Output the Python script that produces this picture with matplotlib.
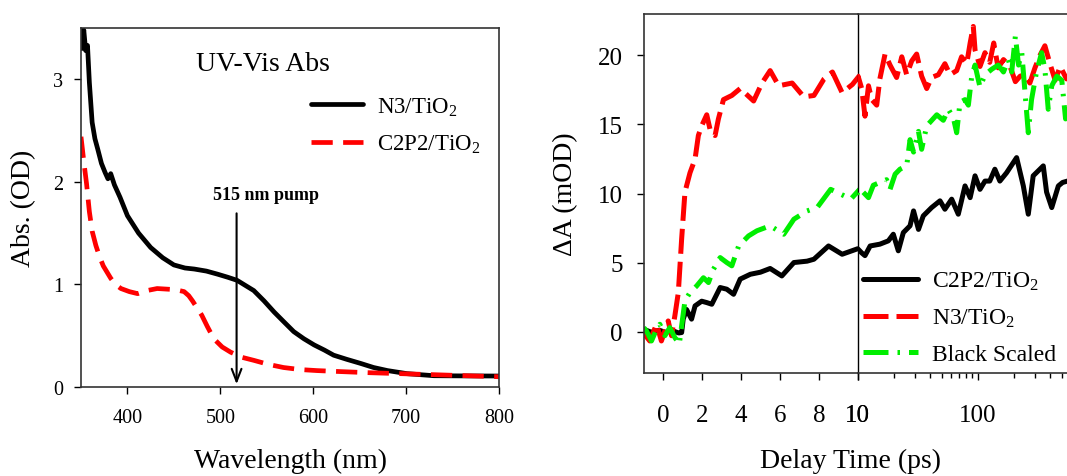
import matplotlib
matplotlib.use("Agg")
import matplotlib.pyplot as plt

plt.rcParams['font.family'] = ['Liberation Serif', 'DejaVu Serif']
plt.rcParams['mathtext.fontset'] = 'custom'
plt.rcParams['mathtext.rm'] = 'Liberation Serif'
plt.rcParams['mathtext.it'] = 'Liberation Serif:italic'

# ---- left panel: UV-Vis absorption ----
wl_n3 = [350, 351, 353, 355, 357, 359, 362, 365, 368, 372, 376, 379, 382, 386, 392,
         400, 412, 425, 438, 450, 462, 472, 485, 497, 508, 518, 527, 536, 547, 558,
         569, 579, 590, 601, 612, 622, 636, 651, 665, 680, 701, 730, 765, 800]
abs_n3 = [3.5, 3.3, 3.48, 3.28, 3.33, 2.97, 2.58, 2.42, 2.32, 2.18, 2.09, 2.03, 2.08, 1.97, 1.85,
          1.67, 1.5, 1.36, 1.26, 1.19, 1.16, 1.15, 1.13, 1.10, 1.07, 1.04, 0.99, 0.94, 0.84, 0.73,
          0.63, 0.54, 0.47, 0.41, 0.36, 0.31, 0.27, 0.23, 0.19, 0.16, 0.13, 0.11, 0.108, 0.107]

wl_c2 = [350, 353, 356, 359, 362, 366, 370, 374, 378, 382, 387, 393, 402, 411, 421,
         432, 441, 450, 456, 461, 466, 470, 475, 480, 486, 493, 502, 511, 523, 536,
         552, 568, 586, 604, 630, 658, 694, 730, 765, 800]
abs_c2 = [2.44, 2.2, 1.98, 1.71, 1.52, 1.38, 1.27, 1.18, 1.12, 1.06, 1.0, 0.96, 0.93, 0.91, 0.94,
          0.96, 0.955, 0.95, 0.94, 0.93, 0.89, 0.84, 0.77, 0.70, 0.59, 0.47, 0.39, 0.34, 0.29, 0.26,
          0.22, 0.19, 0.17, 0.16, 0.15, 0.14, 0.13, 0.12, 0.11, 0.10]

# ---- right panel: transient absorption ----
t_black = [-1.0, -0.7, -0.5, -0.2, 0.1, 0.5, 0.8, 0.95, 1.03, 1.2, 1.46, 1.64, 1.98, 2.24,
           2.5, 2.93, 3.27, 3.62, 3.96, 4.48, 5.0, 5.5, 6.1, 6.72, 7.4, 7.75, 8.5, 9.2, 10.0,
           10.8, 11.5, 12.7, 15.3, 18.0, 19.8, 21.8, 24.0, 27.3, 29.2, 32.1, 35.2, 41.3,
           48.5, 53.3, 60.7, 68.9, 78.4, 86.5, 95.0, 104.5, 115, 126, 139, 153, 174, 211,
           240, 264, 290, 330, 352, 375, 414, 470, 510, 560, 620]
da_black = [0.17, 0.0, -0.07, 0.1, -0.05, 0.05, -0.1, -0.07, 0.9, 1.6, 0.9, 1.86, 2.2, 2.1,
            1.98, 3.19, 3.07, 2.7, 3.8, 4.15, 4.3, 4.57, 4.03, 5.0, 5.1, 5.24, 6.2, 5.6, 6.0,
            5.7, 5.5, 6.2, 6.33, 6.57, 7.05, 5.85, 7.17, 7.66, 8.74, 7.4, 8.38, 8.98,
            9.47, 8.86, 9.59, 8.5, 10.55, 9.7, 11.28, 10.3, 10.9, 10.9, 11.76, 10.9, 11.5, 12.6,
            10.55, 8.5, 11.28, 11.76, 12.0, 10.1, 8.98, 10.55, 10.8, 10.9, 11.0]

t_red = [-1.03, -0.69, -0.34, -0.09, 0.26, 0.43, 0.6, 0.78, 0.95, 1.12, 1.38, 1.64, 1.81,
         1.98, 2.24, 2.45, 2.67, 2.84, 3.1, 3.53, 3.96, 4.65, 5.08, 5.5, 5.94, 6.63, 7.23,
         7.75, 8.27, 8.7, 9.2, 9.73, 10.07,
         10.8, 11.5, 12.3, 13.1, 14.4, 15.3, 16.9, 18.6, 21.1, 23.3, 25.6, 28.2, 31.0, 34.1,
         37.6, 41.3, 47.0, 53.3, 58.8, 66.8, 73.4, 81.0, 86.5, 91.9, 95.0, 104.5, 115, 126,
         136, 148, 164, 186, 206, 226, 248, 272, 300, 330, 363, 400, 442, 487, 550, 620]
da_red = [-0.07, -0.68, 0.53, -0.68, 0.77, -0.3, 1.13, 2.83, 6.7, 10.1, 11.5, 12.5, 14.2,
          14.9, 15.7, 14.4, 14.2, 15.4, 16.8, 17.1, 17.6, 16.7, 18.0, 18.9, 17.8, 18.0, 17.0,
          17.1, 18.3, 18.8, 17.3, 17.9, 18.5,
          17.6, 15.6, 17.8, 16.8, 16.4, 18.3, 20.1, 19.3, 18.4, 19.9, 18.6, 19.6, 20.1, 18.5,
          17.6, 18.4, 18.6, 19.4, 18.6, 18.9, 19.9, 19.4, 20.9, 22.1, 20.4, 19.2, 20.2, 19.5,
          20.9, 19.1, 19.7, 19.2, 18.1, 18.5, 18.6, 18.0, 19.1, 20.0, 20.7, 19.4, 18.2, 19.2, 18.3, 18.8]

t_green = [-1.0, -0.86, -0.6, -0.34, -0.17, 0.09, 0.34, 0.6, 0.83, 0.95, 1.12, 1.38, 1.72,
           2.07, 2.33, 2.58, 2.93, 3.27, 3.53, 3.88, 4.39, 4.82, 5.5, 6.2, 6.72, 7.4, 7.92,
           8.61, 9.13, 9.65, 10.1,
           11.1, 12.3, 13.5, 15.3, 17.4, 18.6, 20.5, 22.5, 25.6, 27.3, 29.2, 32.1, 34.1, 37.6,
           45.6, 51.7, 56.9, 62.6, 66.8, 71.2, 78.4, 83.6, 89.2, 95.0, 104.5, 115, 131, 148,
           164, 180, 192, 206, 219, 233, 248, 264, 281, 309, 341, 363, 387, 414, 456, 502, 540, 600]
da_green = [0.29, 0.05, -0.68, 0.17, 0.53, -0.3, 0.29, -0.43, -0.92, 0.41, 2.22, 2.83, 3.3,
            3.9, 3.55, 4.5, 5.36, 5.0, 4.76, 6.2, 6.93, 7.3, 7.66, 7.05, 8.14, 8.74, 8.99,
            10.3, 9.95, 9.6, 10.3,
            10.1, 9.7, 10.6, 10.8, 11.0, 10.3, 11.4, 11.76, 12.0, 13.9, 13.0, 14.5, 13.2, 14.9,
            15.7, 15.3, 16.1, 15.5, 14.4, 16.6, 16.8, 16.4, 18.5, 19.3, 17.7, 18.6, 19.0, 19.3,
            18.8, 19.7, 18.8, 21.4, 19.3, 20.2, 17.3, 14.4, 16.8, 18.8, 20.2, 19.0, 16.1, 17.8,
            18.5, 18.2, 15.4, 18.0]

W, H = 1067, 477
fig = plt.figure(figsize=(W / 100, H / 100), dpi=100)

def box(x0, y0, x1, y1):
    return [x0 / W, 1 - y1 / H, (x1 - x0) / W, (y1 - y0) / H]

frame_c = '#333333'

# ---------------- left ----------------
ax = fig.add_axes(box(81, 29, 499, 388))
ax.plot(wl_n3, abs_n3, color='black', lw=3.4, solid_capstyle='round', label='N3/TiO$_2$')
ax.plot(wl_c2, abs_c2, color='red', lw=3.4, ls=(0, (4.5, 2.2)), label='C2P2/TiO$_2$')
ax.set_xlim(350, 800)
ax.set_ylim(0, 3.5)
ax.set_xticks([400, 500, 600, 700, 800])
ax.set_yticks([0, 1, 2, 3])
ax.tick_params(direction='out', length=5, width=1, labelsize=14.5, pad=10)
ax.tick_params(axis='y', pad=8)
ax.tick_params(top=False, right=False)
for s in ax.spines.values():
    s.set_color(frame_c)
    s.set_linewidth(1.2)
ax.set_ylabel('Abs. (OD)', fontsize=20, labelpad=12)
ax.text(546, 3.15, 'UV-Vis Abs', fontsize=20, ha='center', va='center')
ax.annotate('', xy=(517.5, 0.0), xytext=(517.5, 1.72),
            arrowprops=dict(arrowstyle='->,head_length=0.9,head_width=0.35', lw=1.5, color='black'))
ax.text(549, 1.88, '515 nm pump', fontsize=13, fontweight='bold', ha='center', va='center')
ax.legend(loc='upper right', bbox_to_anchor=(1.005, 0.87), frameon=False, fontsize=16.5,
          handlelength=2.3, handletextpad=0.6, labelspacing=0.68)

# ---------------- right ----------------
axl = fig.add_axes(box(643.7, 15, 857.7, 374))
axr = fig.add_axes(box(857.7, 15, 1097.7, 374))
axr.patch.set_visible(False)

red_ls = (0, (5, 1.6))
green_ls = (0, (5, 1.8, 0.5, 1.8))
for a in (axl, axr):
    a.plot(t_black, da_black, color='black', lw=3.6, solid_capstyle='round', label='C2P2/TiO$_2$')
    a.plot(t_red, da_red, color='red', lw=3.6, ls=red_ls, label='N3/TiO$_2$')
    a.plot(t_green, da_green, color='#00ee00', lw=3.6, ls=green_ls, label='Black Scaled')
    a.set_ylim(-3, 23)
    for s in a.spines.values():
        s.set_color(frame_c)
        s.set_linewidth(1.2)

axl.set_xlim(-1, 10)
axl.set_xticks([0, 2, 4, 6, 8, 10])
axl.set_yticks([0, 5, 10, 15, 20])
axl.tick_params(direction='out', length=5, width=1, labelsize=18, pad=17)
axl.tick_params(axis='y', pad=10)
axl.spines['right'].set_color('black')
axl.spines['right'].set_linewidth(1.0)
axl.spines['right'].set_zorder(5)
axl.set_ylabel('ΔA (mOD)', fontsize=20, labelpad=14)

axr.set_xscale('log')
axr.set_xlim(10, 1000)
axr.set_xticks([10, 100])
axr.set_xticklabels(['10', '100'])
axr.tick_params(which='both', direction='out', labelsize=18, pad=17)
axr.tick_params(which='major', length=5, width=1)
axr.tick_params(which='minor', length=3.5, width=1)
axr.tick_params(axis='y', left=False, labelleft=False)
axr.spines['left'].set_visible(False)
axr.legend(loc='lower left', bbox_to_anchor=(-0.045, -0.025), frameon=False, fontsize=17,
           handlelength=2.3, handletextpad=0.6, labelspacing=0.62, borderaxespad=0.3)

fig.text(290 / W, 1 - 461 / H, 'Wavelength (nm)', fontsize=20, ha='center', va='center')
fig.text(850 / W, 1 - 461 / H, 'Delay Time (ps)', fontsize=20, ha='center', va='center')

fig.savefig('out.png', dpi=100)
